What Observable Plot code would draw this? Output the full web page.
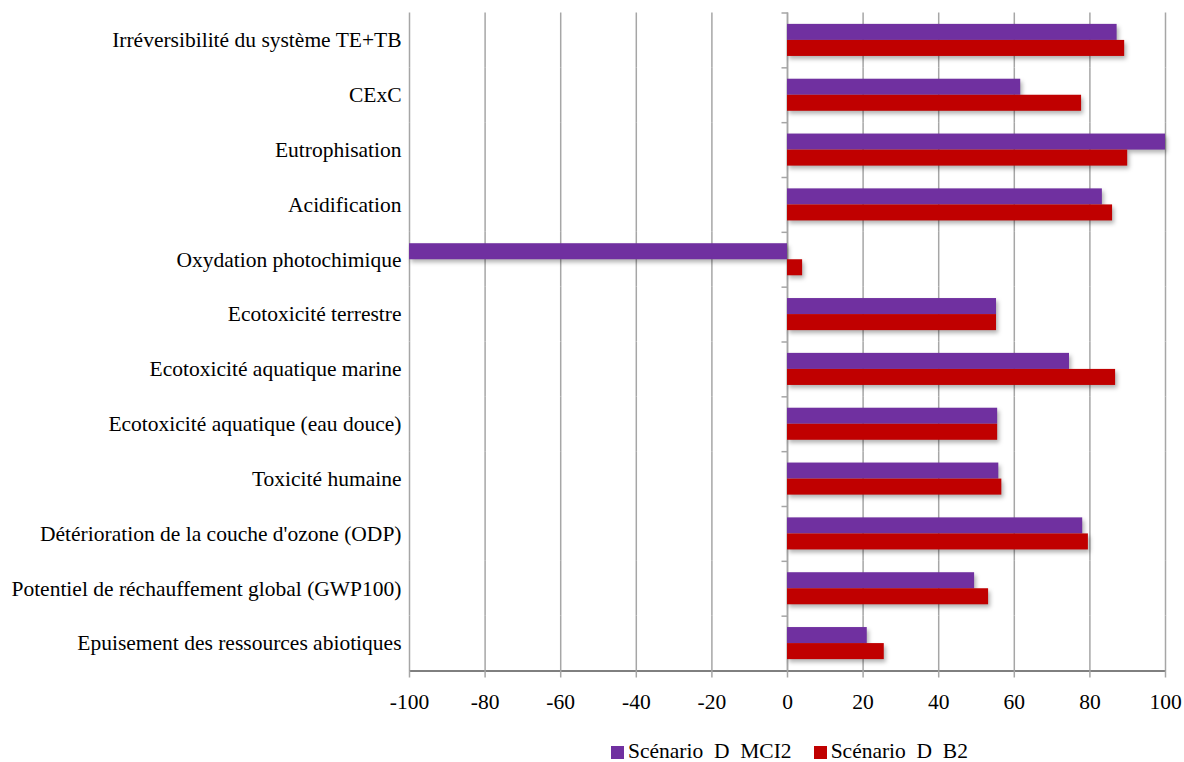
<!DOCTYPE html>
<html>
<head>
<meta charset="utf-8">
<script src="https://cdn.jsdelivr.net/npm/d3@7"></script>
<script src="https://cdn.jsdelivr.net/npm/@observablehq/plot@0.6"></script>
<style>
  html, body { margin: 0; padding: 0; background: #fff; overflow: hidden; }
  #chart svg { display: block; }
  #chart svg text { font-family: "Liberation Serif", "Times New Roman", Tinos, serif; }
  g[aria-label="bar"] { filter: drop-shadow(2px 3px 2px rgba(0,0,0,0.3)); }
  g[aria-label^="x-axis"] line, g[aria-label^="x-axis"] path { stroke: #a6a6a6; }
  g[aria-label="x-axis tick"] { stroke: #a6a6a6; stroke-width: 1.5; }
  #legend { display: flex; align-items: center; height: 22px; line-height: 22px; margin-left: 611px; margin-top: 5px;
            font-family: "Liberation Serif", "Times New Roman", Tinos, serif; font-size: 21.5px; color: #000; white-space: pre; }
  .item { display: flex; align-items: center; margin-right: 22px; }
  .sw { width: 13px; height: 13px; margin-right: 4px; margin-top: 3px; }
</style>
</head>
<body>
<div id="chart"></div>
<div id="legend"></div>
<script>
const categories = [
  "Irréversibilité du système TE+TB",
  "CExC",
  "Eutrophisation",
  "Acidification",
  "Oxydation photochimique",
  "Ecotoxicité terrestre",
  "Ecotoxicité aquatique marine",
  "Ecotoxicité aquatique (eau douce)",
  "Toxicité humaine",
  "Détérioration de la couche d'ozone (ODP)",
  "Potentiel de réchauffement global (GWP100)",
  "Epuisement des ressources abiotiques"
];
const mci2 = [87.2, 61.7, 100, 83.3, -100, 55.3, 74.6, 55.6, 55.9, 78.1, 49.5, 21.1];
const b2   = [89.2, 77.8, 90.0, 86.0, 4.0, 55.3, 86.8, 55.6, 56.7, 79.6, 53.2, 25.6];
const seriesNames = ["Scénario  D  MCI2", "Scénario  D  B2"];
const colors = ["#7030A0", "#C00000"];
const xTicks = [-100, -80, -60, -40, -20, 0, 20, 40, 60, 80, 100];

const rows = categories.flatMap((c, i) => [
  {category: c, series: seriesNames[0], value: mci2[i]},
  {category: c, series: seriesNames[1], value: b2[i]}
]);

const boundaryTick = {
  draw(ctx) { ctx.moveTo(-6, 0); ctx.lineTo(0, 0); }
};

const H = 735;
const chart = Plot.plot({
  width: 1184,
  height: H,
  marginLeft: 409,
  marginRight: 19,
  marginTop: 12.5,
  marginBottom: H - 670.5,
  style: {fontFamily: "'Liberation Serif', 'Times New Roman', serif", fontSize: "21.5px", color: "#000", background: "#fff"},
  x: {domain: [-100, 100], ticks: xTicks, tickSize: 7, tickPadding: 16, line: true, label: null, tickFormat: d => String(d)},
  fy: {domain: categories, padding: 0, round: false, label: null, tickSize: 0, tickPadding: 8},
  y: {domain: seriesNames, axis: null, round: false, paddingInner: 0, paddingOuter: 0.71, align: 0.5},
  color: {domain: seriesNames, range: colors},
  marks: [
    Plot.gridX(xTicks, {stroke: "#a6a6a6", strokeOpacity: 1, strokeWidth: 1.5}),
    Plot.ruleX([0], {stroke: "#a6a6a6", strokeWidth: 1.5}),
    Plot.dot([0], {x: d => d, frameAnchor: "top", symbol: boundaryTick, stroke: "#a6a6a6", strokeWidth: 1.5}),
    Plot.barX(rows, {fy: "category", y: "series", x: "value", fill: "series"})
  ]
});
document.getElementById("chart").appendChild(chart);

const legend = document.getElementById("legend");
seriesNames.forEach((s, i) => {
  const item = document.createElement("div");
  item.className = "item";
  const sw = document.createElement("div");
  sw.className = "sw";
  sw.style.background = colors[i];
  const t = document.createElement("span");
  t.textContent = s;
  item.appendChild(sw);
  item.appendChild(t);
  legend.appendChild(item);
});
</script>
</body>
</html>
